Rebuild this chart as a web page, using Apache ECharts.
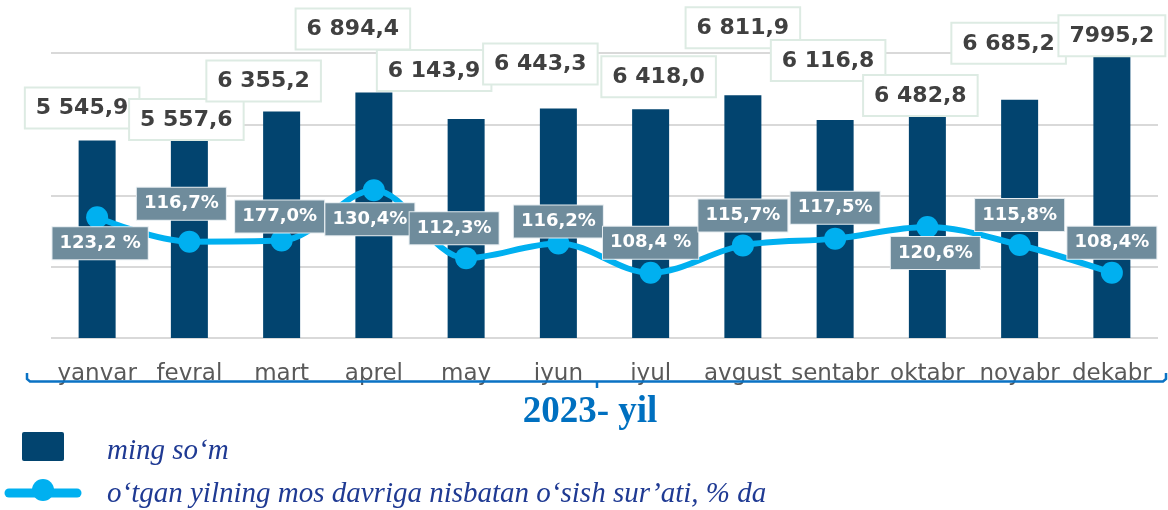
<!DOCTYPE html>
<html>
<head>
<meta charset="utf-8">
<script src="https://cdn.jsdelivr.net/npm/echarts@6/dist/echarts.min.js"></script>
<style>
html,body{margin:0;padding:0;background:#fff;}
#c{width:1168px;height:510px;}
</style>
</head>
<body>
<div id="c"></div>
<script>
// ---- data ----
const categories = ['yanvar','fevral','mart','aprel','may','iyun','iyul','avgust','sentabr','oktabr','noyabr','dekabr'];
const barValues = [5545.9, 5557.6, 6355.2, 6894.4, 6143.9, 6443.3, 6418.0, 6811.9, 6116.8, 6482.8, 6685.2, 7995.2];
const barLabels = ['5 545,9','5 557,6','6 355,2','6 894,4','6 143,9','6 443,3','6 418,0','6 811,9','6 116,8','6 482,8','6 685,2','7995,2'];
const lineValues = [123.2, 116.7, 117.0, 130.4, 112.3, 116.2, 108.4, 115.7, 117.5, 120.6, 115.8, 108.4];
const lineLabels = ['123,2 %','116,7%','177,0%','130,4%','112,3%','116,2%','108,4 %','115,7%','117,5%','120,6%','115,8%','108,4%'];
const seriesNames = ['ming so‘m', 'o‘tgan yilning mos davriga nisbatan o‘sish sur’ati, % da'];
const yearTitle = '2023- yil';

// ---- layout (label placement offsets, px) ----
const barLabelOffsets = [[-15,-13],[-3,-1],[-18,-11],[-21,-44],[-32,-29],[-18,-25],[8,-13],[0,-48],[-7,-40],[-7,8],[-11,-37],[0,2]];
const lineLabelOffsets = [[3,26],[-8,-38],[-2,-24],[-4,29],[-12,-30],[0,-22],[0,-30],[0,-30],[0,-31],[8,26],[0,-30],[0,-30]];

const BAR = '#02446F', LINE = '#00B0F0', LEG = '#1F3A93', BRACE = '#0A72C4';

const chart = echarts.init(document.getElementById('c'), null, {renderer:'canvas'});

const barData = barValues.map((v,i)=>({
  value: v,
  label: { offset: barLabelOffsets[i], formatter: barLabels[i] }
}));
const lineData = lineValues.map((v,i)=>({
  value: v,
  label: { offset: lineLabelOffsets[i], formatter: lineLabels[i] }
}));

const option = {
  animation: false,
  backgroundColor: '#fff',
  grid: { left: 51, right: 10, top: 53, bottom: 172 },
  xAxis: {
    type: 'category',
    data: categories,
    axisLine: { show: false },
    axisTick: { show: false },
    axisLabel: { color: '#595959', fontSize: 23, fontFamily: 'DejaVu Sans', margin: 25, interval: 0 }
  },
  yAxis: [
    { type: 'value', min: 0, max: 8000, interval: 2000, axisLabel: { show: false },
      axisLine: { show: false }, axisTick: { show: false },
      splitLine: { lineStyle: { color: '#D9D9D9', width: 2 } } },
    { type: 'value', min: 91, max: 167, show: false, splitLine: { show: false } }
  ],
  series: [
    {
      name: seriesNames[0], type: 'bar', data: barData, barWidth: 37,
      itemStyle: { color: BAR },
      z: 2,
      label: {
        show: true, position: 'top', distance: 0,
        color: '#404040', fontSize: 22, fontWeight: 'bold', fontFamily: 'DejaVu Sans',
        lineHeight: 26, padding: [7, 10, 6, 10],
        backgroundColor: '#fff', borderColor: '#DDEBE3', borderWidth: 2
      }
    },
    {
      name: seriesNames[1], type: 'line', yAxisIndex: 1, data: lineData, smooth: 0.35,
      symbol: 'circle', symbolSize: 22,
      lineStyle: { color: LINE, width: 6 },
      itemStyle: { color: LINE },
      z: 3,
      label: {
        show: true, position: 'inside',
        color: '#fff', fontSize: 18, fontWeight: 'bold', fontFamily: 'DejaVu Sans',
        lineHeight: 21, padding: [6, 7, 5, 7],
        backgroundColor: '#6F8C9C', borderColor: '#E4EBEF', borderWidth: 1
      }
    }
  ],
  graphic: [
    { type: 'polyline', z: 100, shape: { points: [[27,373],[27,379],[30,381.5],[1163,381.5],[1166,379],[1166,373]] },
      style: { stroke: BRACE, lineWidth: 2.5, fill: null } },
    { type: 'line', z: 100, shape: { x1: 597, y1: 381.5, x2: 597, y2: 388 }, style: { stroke: BRACE, lineWidth: 2.5 } },
    { type: 'text', z: 100, x: 590, y: 412, style: { text: yearTitle, fill: '#0070C0',
      font: 'bold 37px "Liberation Serif"', textAlign: 'center', textVerticalAlign: 'middle' } },
    { type: 'rect', z: 100, shape: { x: 22, y: 432, width: 42, height: 29, r: 2 }, style: { fill: BAR } },
    { type: 'text', z: 100, x: 107, y: 451, style: { text: seriesNames[0], fill: LEG,
      font: 'italic 29px "Liberation Serif"', textAlign: 'left', textVerticalAlign: 'middle' } },
    { type: 'line', z: 100, shape: { x1: 9, y1: 493, x2: 77, y2: 493 }, style: { stroke: LINE, lineWidth: 9, lineCap: 'round' } },
    { type: 'circle', z: 100, shape: { cx: 43, cy: 490, r: 11 }, style: { fill: LINE } },
    { type: 'text', z: 100, x: 107, y: 494, style: { text: seriesNames[1], fill: LEG,
      font: 'italic 29px "Liberation Serif"', textAlign: 'left', textVerticalAlign: 'middle' } }
  ]
};
chart.setOption(option);
</script>
</body>
</html>
